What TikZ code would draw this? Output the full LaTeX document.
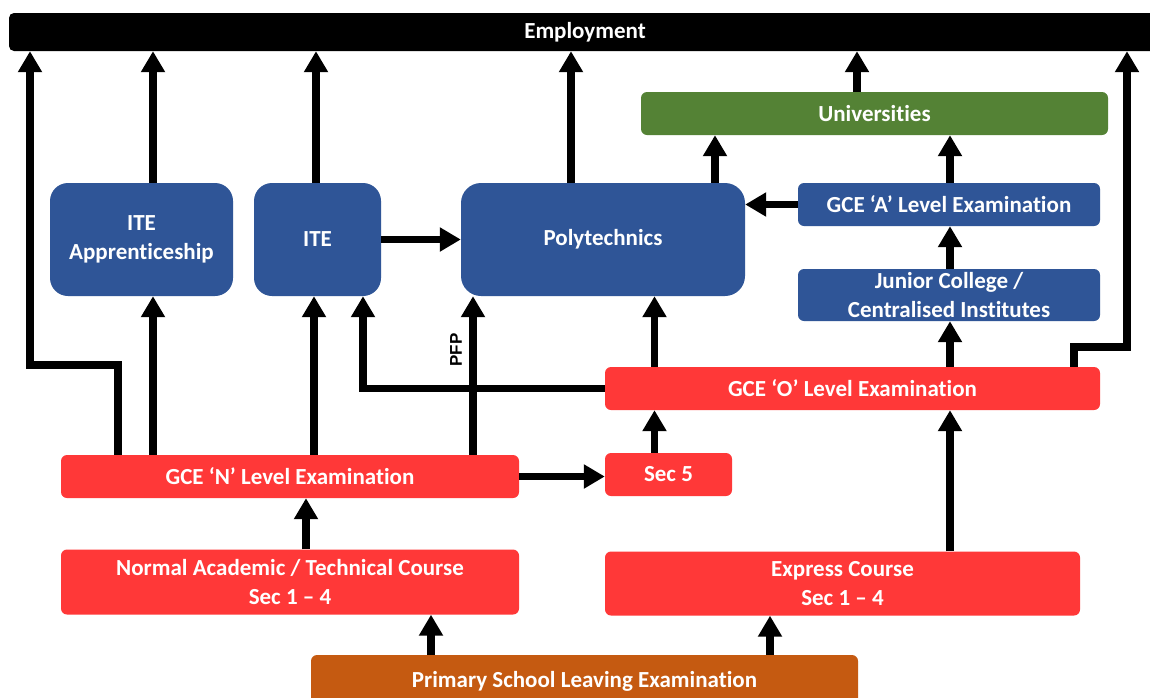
\documentclass[tikz,border=0pt]{standalone}
\usepackage{fontspec}
\setmainfont{Carlito}[Ligatures={NoCommon}]
\newfontfamily\pfpfont{Liberation Sans}
\usetikzlibrary{arrows.meta}
\definecolor{bblue}{HTML}{2F5597}
\definecolor{bgreen}{HTML}{548235}
\definecolor{bred}{HTML}{FF3838}
\definecolor{borange}{HTML}{C55A11}
\tikzset{
  box/.style={rectangle, rounded corners=6pt, inner sep=0pt, text=white,
    font=\fontsize{23}{29}\selectfont\bfseries, align=center},
  bigbox/.style={box, rounded corners=18pt},
  arr/.style={line width=7.5pt, -{Triangle[width=23pt,length=21pt]}},
}
\begin{document}
\begin{tikzpicture}[x=1pt,y=-1pt]
\clip (0,0) rectangle (1150,697);
\fill[white] (0,0) rectangle (1150,697);
% nodes
\node[box, fill=black, rounded corners=5pt, minimum width=1152pt, minimum height=38pt] (emp) at (585,32) {Employment};
\node[bigbox, fill=bblue, minimum width=183pt, minimum height=113pt] (appr) at (141.5,239.5) {ITE\\Apprenticeship};
\node[bigbox, fill=bblue, minimum width=127pt, minimum height=113pt] (ite) at (317.5,239.5) {ITE};
\node[bigbox, fill=bblue, rounded corners=20pt, minimum width=284pt, minimum height=113pt] (poly) at (603,239.5) {Polytechnics};
\node[box, fill=bgreen, minimum width=467pt, minimum height=43pt] (univ) at (874.5,113.5) {Universities};
\node[box, fill=bblue, minimum width=302pt, minimum height=43pt] (alev) at (949,204.5) {GCE ‘A’ Level Examination};
\node[box, fill=bblue, minimum width=302pt, minimum height=52pt] (jc) at (949,295) {Junior College /\\Centralised Institutes};
\node[box, fill=bred, minimum width=495pt, minimum height=43pt] (olev) at (852.5,388.5) {GCE ‘O’ Level Examination};
\node[box, fill=bred, minimum width=458pt, minimum height=43pt] (nlev) at (290,476.5) {GCE ‘N’ Level Examination};
\node[box, fill=bred, minimum width=127pt, minimum height=43pt] (sec5) at (668.5,474.5) {Sec 5};
\node[box, fill=bred, minimum width=458pt, minimum height=65pt] (nacad) at (290,582) {Normal Academic / Technical Course\\Sec 1 – 4};
\node[box, fill=bred, minimum width=475pt, minimum height=64pt] (expr) at (842.5,583.5) {Express Course\\Sec 1 – 4};
\node[box, fill=borange, minimum width=547pt, minimum height=52pt] (psle) at (584.5,681) {Primary School Leaving Examination};
\node[rotate=90, font=\pfpfont\fontsize{17}{20}\selectfont\bfseries] (pfp) at (456,350) {PFP};
% x positions
\coordinate (x30) at (30,0);
\coordinate (x118) at (118,0);
\coordinate (x153) at (153,0);
\coordinate (x314) at (314,0);
\coordinate (x316) at (316,0);
\coordinate (x363) at (363,0);
\coordinate (x306) at (306,0);
\coordinate (x431) at (431,0);
\coordinate (x473) at (473,0);
\coordinate (x571) at (571,0);
\coordinate (x655) at (654.5,0);
\coordinate (x715) at (715,0);
\coordinate (x770) at (770,0);
\coordinate (x857) at (857,0);
\coordinate (x950) at (950,0);
\coordinate (x1074) at (1074,0);
\coordinate (x1127) at (1127,0);
% connectors
\draw[arr] (nlev.north -| x118) -- (118,365) -- (30,365) -- (emp.south -| x30);
\draw[arr] (nlev.north -| x153) -- (appr.south -| x153);
\draw[arr] (nlev.north -| x314) -- (ite.south -| x314);
\draw[arr] (nlev.north -| x473) -- (poly.south -| x473);
\draw[arr] (appr.north -| x153) -- (emp.south -| x153);
\draw[arr] (ite.north -| x316) -- (emp.south -| x316);
\draw[arr] (poly.north -| x571) -- (emp.south -| x571);
\draw[arr] (ite.east) -- (poly.west);
\draw[arr] (olev.west) -- (olev.west -| x363) -- (ite.south -| x363);
\draw[arr] (olev.north -| x655) -- (poly.south -| x655);
\draw[arr] (olev.north -| x950) -- (jc.south -| x950);
\draw[arr] (jc.north -| x950) -- (alev.south -| x950);
\draw[arr] (alev.north -| x950) -- (univ.south -| x950);
\draw[arr] (alev.west) -- (alev.west -| poly.east);
\draw[arr] (poly.north -| x715) -- (univ.south -| x715);
\draw[arr] (univ.north -| x857) -- (emp.south -| x857);
\draw[arr] (olev.north -| x1074) -- (1074,347) -- (1127,347) -- (emp.south -| x1127);
\draw[arr] (sec5.north -| x655) -- (olev.south -| x655);
\draw[arr] (nlev.east) -- (nlev.east -| sec5.west);
\draw[arr] (nacad.north -| x306) -- (nlev.south -| x306);
\draw[arr] (expr.north -| x950) -- (olev.south -| x950);
\draw[arr] (psle.north -| x431) -- (nacad.south -| x431);
\draw[arr] (psle.north -| x770) -- (expr.south -| x770);
\end{tikzpicture}
\end{document}
